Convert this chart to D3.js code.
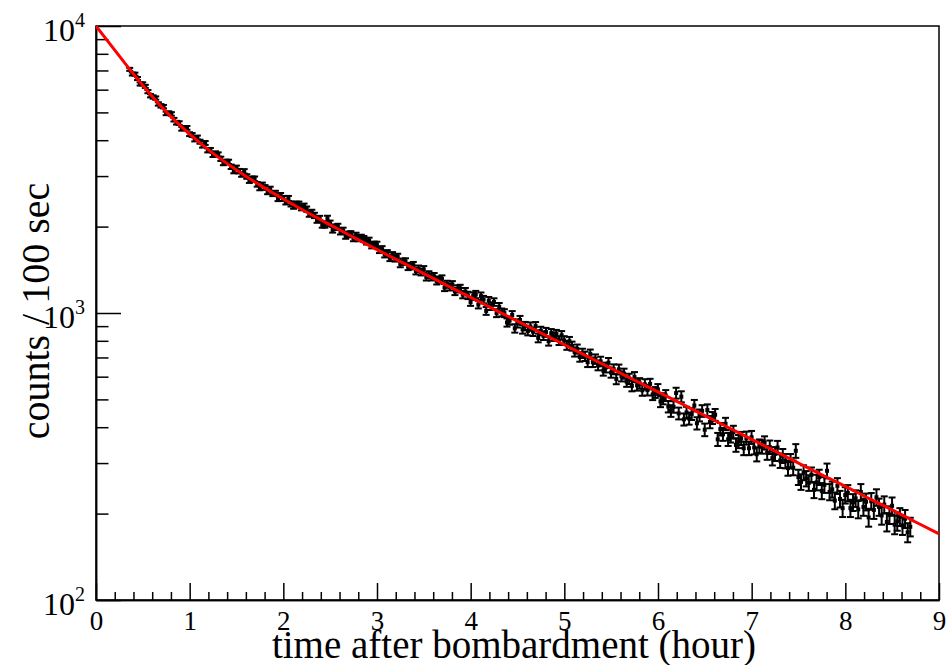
<!DOCTYPE html>
<html>
<head>
<meta charset="utf-8">
<script src="https://cdn.jsdelivr.net/npm/d3@7"></script>
<style>
  body { margin: 0; background: #fff; }
  svg { display: block; font-family: "Liberation Serif", "DejaVu Serif", serif; }
</style>
</head>
<body>
<script>
// counts per 100 s bin, first bin centred at 0.36 h
const binStartHour = 0.36
const binHours = 100 / 3600
const counts = [
  7063, 6804, 6797, 6561, 6281, 6285, 6161, 5908, 5716,
  5658, 5610, 5351, 5270, 5236, 4960, 4974, 4939, 4716,
  4604, 4590, 4384, 4412, 4416, 4199, 4172, 4025, 4088,
  3953, 3831, 3913, 3688, 3698, 3556, 3599, 3568, 3446,
  3331, 3364, 3363, 3232, 3123, 3206, 3121, 3038, 3116,
  2990, 2893, 2935, 2935, 2808, 2729, 2794, 2738, 2645,
  2703, 2606, 2615, 2504, 2568, 2508, 2438, 2508, 2399,
  2356, 2395, 2396, 2327, 2357, 2302, 2211, 2242, 2188,
  2108, 2134, 2028, 2028, 2136, 2054, 1950, 1991, 2001,
  1921, 1939, 1857, 1879, 1885, 1821, 1861, 1821, 1831,
  1813, 1774, 1788, 1721, 1731, 1730, 1658, 1669, 1602,
  1616, 1556, 1590, 1550, 1569, 1482, 1509, 1512, 1449,
  1457, 1468, 1400, 1426, 1389, 1419, 1334, 1361, 1335,
  1342, 1293, 1304, 1316, 1227, 1260, 1233, 1256, 1189,
  1214, 1219, 1159, 1188, 1152, 1092, 1145, 1160, 1070,
  1145, 1114, 1017, 1104, 1057, 1092, 999, 1051, 1005,
  999, 927, 941, 984, 884, 920, 946, 877, 901,
  865, 897, 861, 900, 819, 866, 834, 858, 798,
  850, 828, 844, 802, 836, 802, 772, 797, 767,
  732, 749, 703, 724, 707, 674, 719, 674, 691,
  657, 678, 630, 646, 671, 620, 637, 589, 636,
  602, 615, 577, 590, 557, 598, 560, 569, 538,
  564, 539, 566, 520, 529, 542, 492, 503, 516,
  472, 456, 471, 526, 447, 511, 426, 450, 429,
  445, 476, 413, 440, 456, 392, 459, 417, 431,
  442, 363, 394, 378, 411, 363, 373, 385, 347,
  357, 366, 338, 367, 338, 369, 340, 322, 344,
  342, 353, 326, 341, 312, 323, 340, 306, 318,
  305, 288, 305, 289, 331, 268, 258, 278, 265,
  256, 273, 242, 257, 268, 240, 252, 282, 238,
  243, 222, 250, 225, 209, 232, 236, 209, 219,
  226, 207, 238, 211, 220, 194, 221, 206, 228,
  211, 197, 215, 187, 198, 213, 183, 188, 195,
  182, 192, 172, 180,
]

// fitted curve
const fitHours = [0, 0.25, 0.5, 0.75, 1, 1.25, 1.5, 1.75, 2, 2.25, 2.5, 2.75, 3, 3.25, 3.5, 3.75,
  4, 4.25, 4.5, 4.75, 5, 5.25, 5.5, 5.75, 6, 6.25, 6.5, 6.75, 7, 7.25, 7.5, 7.75, 8, 8.25, 8.5, 8.75, 9]
const fitCounts = [10000, 7850, 6200, 5020, 4200, 3600, 3150, 2790, 2496, 2245, 2027, 1835, 1663, 1510, 1372, 1246,
  1133, 1030, 937, 852, 775, 705, 641, 583, 531, 483, 439, 399, 363, 330, 300, 273, 249, 226, 206, 187, 170]

const xTicks = [0, 1, 2, 3, 4, 5, 6, 7, 8, 9]
const yTicks = [100, 1000, 10000]
const yTickExponents = ["2", "3", "4"]

const dataset = counts.map((c, i) => ({ t: binStartHour + i * binHours, c: c }))

const dimensions = {
  width: 950,
  height: 665,
  margin: { top: 26, right: 11, bottom: 65, left: 96 },
}
dimensions.boundedWidth = dimensions.width - dimensions.margin.left - dimensions.margin.right
dimensions.boundedHeight = dimensions.height - dimensions.margin.top - dimensions.margin.bottom

const wrapper = d3.select("body")
  .append("svg")
    .attr("width", dimensions.width)
    .attr("height", dimensions.height)

const bounds = wrapper.append("g")
  .attr("transform", `translate(${dimensions.margin.left}, ${dimensions.margin.top})`)

bounds.append("clipPath")
    .attr("id", "frame-clip")
  .append("rect")
    .attr("width", dimensions.boundedWidth)
    .attr("height", dimensions.boundedHeight)

// scales
const xScale = d3.scaleLinear()
  .domain([0, 9])
  .range([0, dimensions.boundedWidth])

const yScale = d3.scaleLog()
  .domain([100, 10000])
  .range([dimensions.boundedHeight, 0])

// axes, ticks drawn inside the frame like ROOT
const xMinor = d3.range(0, 46).filter(i => i % 5).map(i => i / 5)
const xMinorAxis = d3.axisBottom(xScale)
  .tickValues(xMinor)
  .tickSize(-8)
  .tickSizeOuter(0)
  .tickFormat("")
const xAxis = d3.axisBottom(xScale)
  .tickValues(xTicks)
  .tickSize(-17)
  .tickSizeOuter(0)
  .tickPadding(11)
  .tickFormat(d3.format("d"))

bounds.append("g")
    .attr("transform", `translate(0, ${dimensions.boundedHeight})`)
    .call(xMinorAxis)
const xAxisGroup = bounds.append("g")
    .attr("transform", `translate(0, ${dimensions.boundedHeight})`)
    .call(xAxis)
xAxisGroup.selectAll("text")
    .attr("font-size", 27)
    .attr("font-family", "Liberation Serif")
    .attr("fill", "black")

const yMinor = [200, 300, 400, 500, 600, 700, 800, 900, 2000, 3000, 4000, 5000, 6000, 7000, 8000, 9000]
const yMinorAxis = d3.axisLeft(yScale)
  .tickValues(yMinor)
  .tickSize(-12.5)
  .tickSizeOuter(0)
  .tickFormat("")
const yAxis = d3.axisLeft(yScale)
  .tickValues(yTicks)
  .tickSize(-25)
  .tickSizeOuter(0)
  .tickFormat("")

bounds.append("g").call(yMinorAxis)
bounds.append("g").call(yAxis)

bounds.selectAll(".tick line, .domain")
    .attr("stroke", "black")
    .attr("stroke-width", 1.5)

const yLabels = bounds.append("g")
  .selectAll("text")
  .data(yTicks)
  .join("text")
    .attr("x", -11)
    .attr("y", d => yScale(d) + 15)
    .attr("text-anchor", "end")
    .attr("font-size", 32)
    .text("10")
yLabels.append("tspan")
    .attr("dy", -14)
    .attr("font-size", 20)
    .text((d, i) => yTickExponents[i])

// frame
bounds.append("rect")
    .attr("width", dimensions.boundedWidth)
    .attr("height", dimensions.boundedHeight)
    .attr("fill", "none")
    .attr("stroke", "black")
    .attr("stroke-width", 1.5)

// data points with error bars
const points = bounds.append("g")
  .selectAll("g")
  .data(dataset)
  .join("g")
    .attr("transform", d => `translate(${xScale(d.t)}, 0)`)

const errHigh = d => yScale(d.c + Math.sqrt(d.c))
const errLow = d => yScale(d.c - Math.sqrt(d.c))

points.append("line")
    .attr("y1", errHigh)
    .attr("y2", errLow)
    .attr("stroke", "black")
    .attr("stroke-width", 2)
points.append("line")
    .attr("x1", -3.5).attr("x2", 3.5)
    .attr("y1", errHigh)
    .attr("y2", errHigh)
    .attr("stroke", "black")
    .attr("stroke-width", 2)
points.append("line")
    .attr("x1", -3.5).attr("x2", 3.5)
    .attr("y1", errLow)
    .attr("y2", errLow)
    .attr("stroke", "black")
    .attr("stroke-width", 2)
points.append("rect")
    .attr("x", -2)
    .attr("y", d => yScale(d.c) - 2)
    .attr("width", 4)
    .attr("height", 4)
    .attr("fill", "black")

// fit curve
const fitLine = d3.line()
  .x(d => xScale(d[0]))
  .y(d => yScale(d[1]))
  .curve(d3.curveMonotoneX)

bounds.append("path")
    .datum(fitHours.map((h, i) => [h, fitCounts[i]]))
    .attr("clip-path", "url(#frame-clip)")
    .attr("d", fitLine)
    .attr("fill", "none")
    .attr("stroke", "#ff0000")
    .attr("stroke-width", 3)

// axis titles
wrapper.append("text")
    .attr("x", 514)
    .attr("y", 658)
    .attr("text-anchor", "middle")
    .attr("font-size", 39)
    .text("time after bombardment (hour)")

wrapper.append("text")
    .attr("transform", "translate(49, 311) rotate(-90)")
    .attr("text-anchor", "middle")
    .attr("font-size", 40)
    .text("counts / 100 sec")
</script>
</body>
</html>
